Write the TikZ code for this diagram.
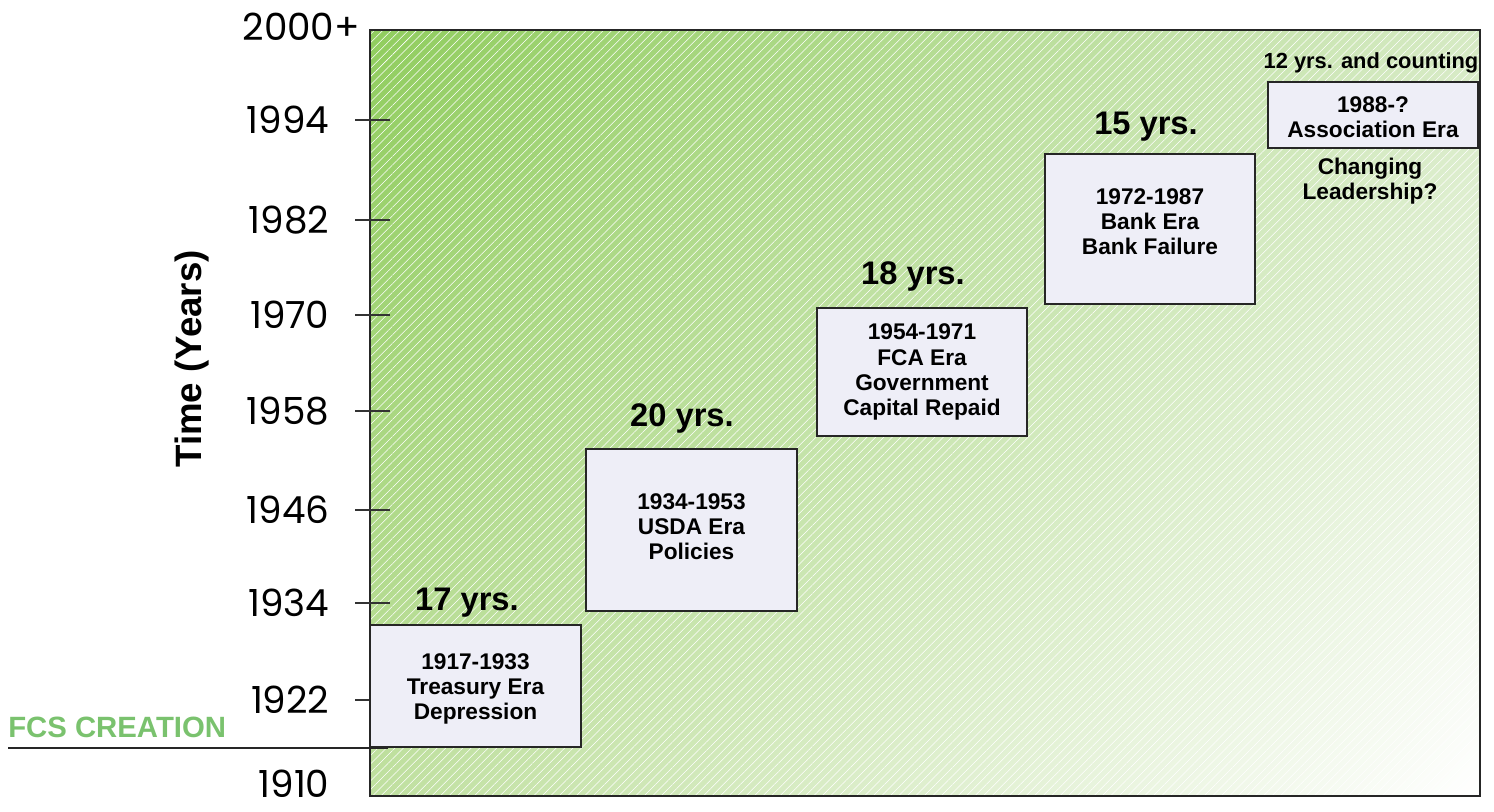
\documentclass[tikz,border=0pt]{standalone}
\usepackage{fontspec}
\setmainfont{Liberation Sans}
\newfontfamily\yearfont{Poppins}
\usetikzlibrary{patterns.meta, shadings}
\definecolor{fieldTL}{RGB}{144,205,94}
\definecolor{fieldTR}{RGB}{214,234,196}
\definecolor{fieldBL}{RGB}{192,224,160}
\definecolor{fieldBR}{RGB}{255,255,255}
\definecolor{eraFill}{RGB}{238,238,247}
\definecolor{fcsGreen}{RGB}{122,194,110}
\tikzset{
  era box/.style={draw=black!85, line width=0.9pt, fill=eraFill},
  era text/.style={align=center, font=\bfseries\fontsize{17}{18.8}\selectfont},
  span label/.style={font=\bfseries\fontsize{24.5}{27}\selectfont},
  year label/.style={anchor=east, inner sep=1pt, font=\yearfont\fontsize{28}{30}\selectfont},
  tick/.style={draw=black!80, line width=0.8pt}
}

\begin{document}
\begin{tikzpicture}[x=0.75pt, y=-0.75pt]
    \useasboundingbox (0,0) rectangle (1494,812);

    % background field
    \shade[upper left=fieldTL, upper right=fieldTR, lower left=fieldBL,
           lower right=fieldBR] (370,30) rectangle (1480,796);
    \fill[pattern={Lines[angle=45,distance=4.5pt,line width=0.4pt]},
          pattern color=white, fill opacity=0.12] (370,30) rectangle (1480,796);
    \draw[black!85, line width=1pt] (370,30) rectangle (1480,796);

    % axis
    \node[year label, anchor=west] (y2000) at (241,27) {2000+};
    \foreach \yr/\ypos in {1994/120, 1982/220, 1970/315, 1958/411,
                           1946/510, 1934/603, 1922/700} {
        \node[year label] (y\yr) at (331,\ypos) {\yr};
        \draw[tick] (355,\ypos) -- (390,\ypos);
    }
    \node[year label] (y1910) at (331,784) {1910};
    \node[rotate=90, font=\bfseries\fontsize{27.5}{30}\selectfont]
        (axis) at (192,359) {Time (Years)};

    % creation marker
    \node[anchor=west, text=fcsGreen, font=\bfseries\fontsize{22}{24}\selectfont,
          inner sep=0pt] (fcs) at (8,727) {FCS CREATION};
    \coordinate (fcsL) at (8,748);
    \coordinate (fcsR) at (388,748);
    \draw[black!85, line width=0.9pt] (fcsL) -- (fcsR);

    % eras
    \draw[era box] (370,625) rectangle (581,747);
    \node[era text] (treasury) at (475.5,689) {1917-1933\\Treasury Era\\Depression};
    \node[span label] (span17) at (467,603) {17 yrs.};

    \draw[era box] (586,449) rectangle (797,611);
    \node[era text] (usda) at (691.5,527) {1934-1953\\USDA Era\\Policies};
    \node[span label] (span20) at (682,418) {20 yrs.};

    \draw[era box] (817,308) rectangle (1027,436);
    \node[era text] (fca) at (922,372) {1954-1971\\FCA Era\\Government\\Capital Repaid};
    \node[span label] (span18) at (913,276) {18 yrs.};

    \draw[era box] (1045,154) rectangle (1255,304);
    \node[era text] (bank) at (1150,222) {1972-1987\\Bank Era\\Bank Failure};
    \node[span label] (span15) at (1146,127) {15 yrs.};

    \draw[era box] (1268,82) rectangle (1478,148);
    \node[era text] (assoc) at (1373,117) {1988-?\\Association Era};
    \node[font=\bfseries\fontsize{16.4}{18}\selectfont] (span12) at (1371,63)
        {12 yrs. and counting};
    \node[era text] (leader) at (1370,181) {Changing\\Leadership?};

\end{tikzpicture}
\end{document}
